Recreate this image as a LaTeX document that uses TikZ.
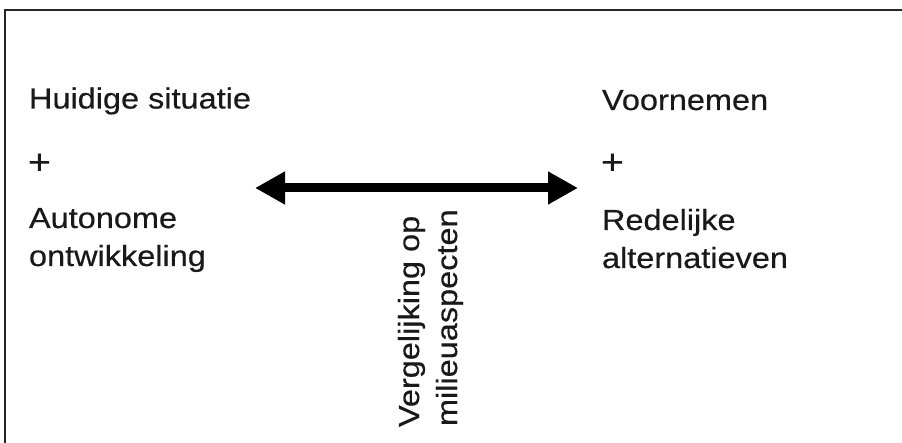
\documentclass[tikz,border=0pt]{standalone}
\usepackage{fontspec}
\setmainfont[FakeStretch=1.12,FakeBold=0.4]{Liberation Sans}
\usetikzlibrary{arrows.meta}
\begin{document}
\begin{tikzpicture}[x=1pt,y=-1pt,
  lbl/.style={anchor=base west,inner sep=0pt,outer sep=0pt,font=\fontsize{29}{38}\selectfont,text=black!90},
  plus/.style={lbl,font=\fontsize{35}{38}\selectfont},
  frameline/.style={line width=2pt,draw=black!85},
  bigarrow/.style={line width=9pt,{Triangle[length=30pt,width=31pt]}-{Triangle[length=30pt,width=31pt]}}]
\useasboundingbox[fill=white] (0,0) rectangle (902,443);
% frame
\coordinate (fb) at (5,444);
\coordinate (fc) at (5,10);
\coordinate (fr) at (903,10);
\draw[frameline] (fb) -- (fc) -- (fr);
% left texts
\node[lbl] (h1) at (29,108.5) {Huidige situatie};
\node[plus] (p1) at (28,174) {+};
\node[lbl] (a1) at (29,228) {Autonome};
\node[lbl] (a2) at (29,266) {ontwikkeling};
% right texts
\node[lbl] (v1) at (602,110) {Voornemen};
\node[plus] (p2) at (601,174) {+};
\node[lbl] (r1) at (602,230) {Redelijke};
\node[lbl] (r2) at (602,268) {alternatieven};
% arrow
\coordinate (L) at (255,188);
\coordinate (R) at (578,188);
\draw[bigarrow] (L) -- (R);
% rotated label
\node[lbl,rotate=90] (c1) at (419,427) {Vergelijking op};
\node[lbl,rotate=90] (c2) at (457,426) {milieuaspecten};
\end{tikzpicture}
\end{document}
